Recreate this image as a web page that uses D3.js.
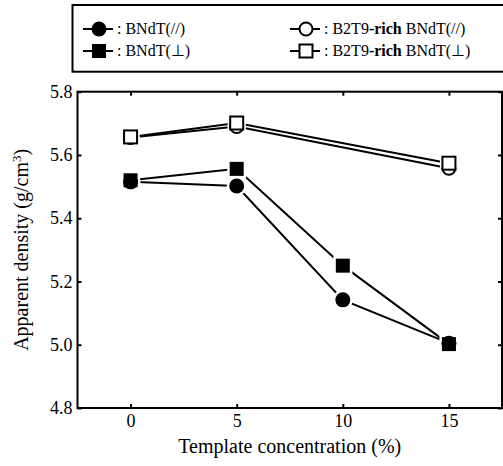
<!DOCTYPE html>
<html><head><meta charset="utf-8">
<script src="https://cdn.jsdelivr.net/npm/d3@7"></script>
<style>body{margin:0;background:#fff}svg{display:block}</style>
</head><body><svg id="c" width="503" height="466" font-family="Liberation Serif"></svg>
<script>
const xTicks = [0, 5, 10, 15];
const yTicks = [4.8, 5.0, 5.2, 5.4, 5.6, 5.8];
const xFull = [0, 5, 10, 15];
const xRich = [0, 5, 15];
const bndtPar = [5.515, 5.502, 5.142, 5.005];
const bndtPerp = [5.520, 5.556, 5.250, 5.002];
const richPar = [5.655, 5.690, 5.558];
const richPerp = [5.657, 5.701, 5.574];
const seriesNames = ["BNdT(//)", "BNdT(\u22a5)", "B2T9-rich BNdT(//)", "B2T9-rich BNdT(\u22a5)"];

const svg = d3.select("#c");
const L = 77.5, R = 502, T = 91.7, B = 408;
const x = d3.scaleLinear().domain([-2.5, 17.5]).range([L, R]);
const y = d3.scaleLinear().domain([4.8, 5.8]).range([B, T]);

svg.append("rect").attr("x", L).attr("y", T).attr("width", R - L).attr("height", B - T)
  .attr("fill", "none").attr("stroke", "#000").attr("stroke-width", 2);

const fmt = d3.format(".1f");
const gx = svg.append("g").attr("transform", `translate(0,${B})`)
  .call(d3.axisBottom(x).tickValues(xTicks).tickSize(-4).tickPadding(6).tickFormat(d3.format("d")));
const gxt = svg.append("g").attr("transform", `translate(0,${T})`)
  .call(d3.axisTop(x).tickValues(xTicks).tickSize(-4).tickFormat(""));
const gy = svg.append("g").attr("transform", `translate(${L},0)`)
  .call(d3.axisLeft(y).tickValues(yTicks).tickSize(-4).tickPadding(5).tickFormat(fmt));
const gyr = svg.append("g").attr("transform", `translate(${R},0)`)
  .call(d3.axisRight(y).tickValues(yTicks).tickSize(-4).tickFormat(""));
[gx, gxt, gy, gyr].forEach(g => {
  g.attr("font-family", "Liberation Serif").attr("font-size", 18);
  g.select(".domain").remove();
  g.selectAll("line").attr("stroke", "#000").attr("stroke-width", 2);
  g.selectAll("text").attr("fill", "#000");
});

svg.append("text").attr("x", (L + R) / 2).attr("y", 453).attr("text-anchor", "middle")
  .attr("font-size", 20).text("Template concentration (%)");
const yt = svg.append("text").attr("transform", `translate(28,${(T + B) / 2}) rotate(-90)`)
  .attr("text-anchor", "middle").attr("font-size", 20);
yt.append("tspan").text("Apparent density (g/cm");
yt.append("tspan").attr("dy", -7).attr("font-size", 13).text("3");
yt.append("tspan").attr("dy", 7).text(")");

const series = [
  {xs: xFull, ys: bndtPar, shape: "circle", fill: "#000"},
  {xs: xFull, ys: bndtPerp, shape: "square", fill: "#000"},
  {xs: xRich, ys: richPar, shape: "circle", fill: "#fff"},
  {xs: xRich, ys: richPerp, shape: "square", fill: "#fff"}
];
const line = d3.line().x(d => x(d[0])).y(d => y(d[1]));
series.forEach(s => {
  const pts = s.xs.map((v, i) => [v, s.ys[i]]);
  svg.append("path").attr("d", line(pts)).attr("fill", "none").attr("stroke", "#000").attr("stroke-width", 2);
});
function marker(g, cx, cy, s, halo) {
  const filled = s.fill === "#000";
  const sw = halo ? 5 : (filled ? 0 : 2);
  const st = halo ? "#fff" : "#000";
  if (s.shape === "circle") {
    g.append("circle").attr("cx", cx).attr("cy", cy).attr("r", filled ? 7.5 : 6.5)
      .attr("fill", s.fill).attr("stroke", st).attr("stroke-width", sw);
  } else {
    const h = filled ? 7 : 6.5;
    g.append("rect").attr("x", cx - h).attr("y", cy - h).attr("width", 2 * h).attr("height", 2 * h)
      .attr("fill", s.fill).attr("stroke", st).attr("stroke-width", sw);
  }
}
const mg = svg.append("g");
series.forEach(s => s.xs.forEach((v, i) => marker(mg, x(v), y(s.ys[i]), s, true)));
series.forEach(s => s.xs.forEach((v, i) => marker(mg, x(v), y(s.ys[i]), s, false)));

svg.append("rect").attr("x", 72.5).attr("y", 5).attr("width", 440).attr("height", 66.7)
  .attr("fill", "none").attr("stroke", "#000").attr("stroke-width", 2);
const legPos = [[83, 29], [83, 51], [290, 29], [290, 51]];
series.forEach((s, i) => {
  const [lx, ly] = legPos[i];
  svg.append("line").attr("x1", lx).attr("x2", lx + 30).attr("y1", ly).attr("y2", ly)
    .attr("stroke", "#000").attr("stroke-width", 2);
  marker(svg, lx + 16, ly, s, false);
  const t = svg.append("text").attr("x", lx + 34).attr("y", ly + 5).attr("font-size", 16);
  const nm = seriesNames[i];
  if (nm.startsWith("B2T9-rich")) {
    t.append("tspan").text(": B2T9");
    t.append("tspan").attr("font-weight", "bold").text("-rich");
    t.append("tspan").text(nm.slice(9));
  } else {
    t.text(": " + nm);
  }
});
svg.selectAll("text").attr("font-family", "Liberation Serif").attr("fill", "#000");
</script></body></html>
